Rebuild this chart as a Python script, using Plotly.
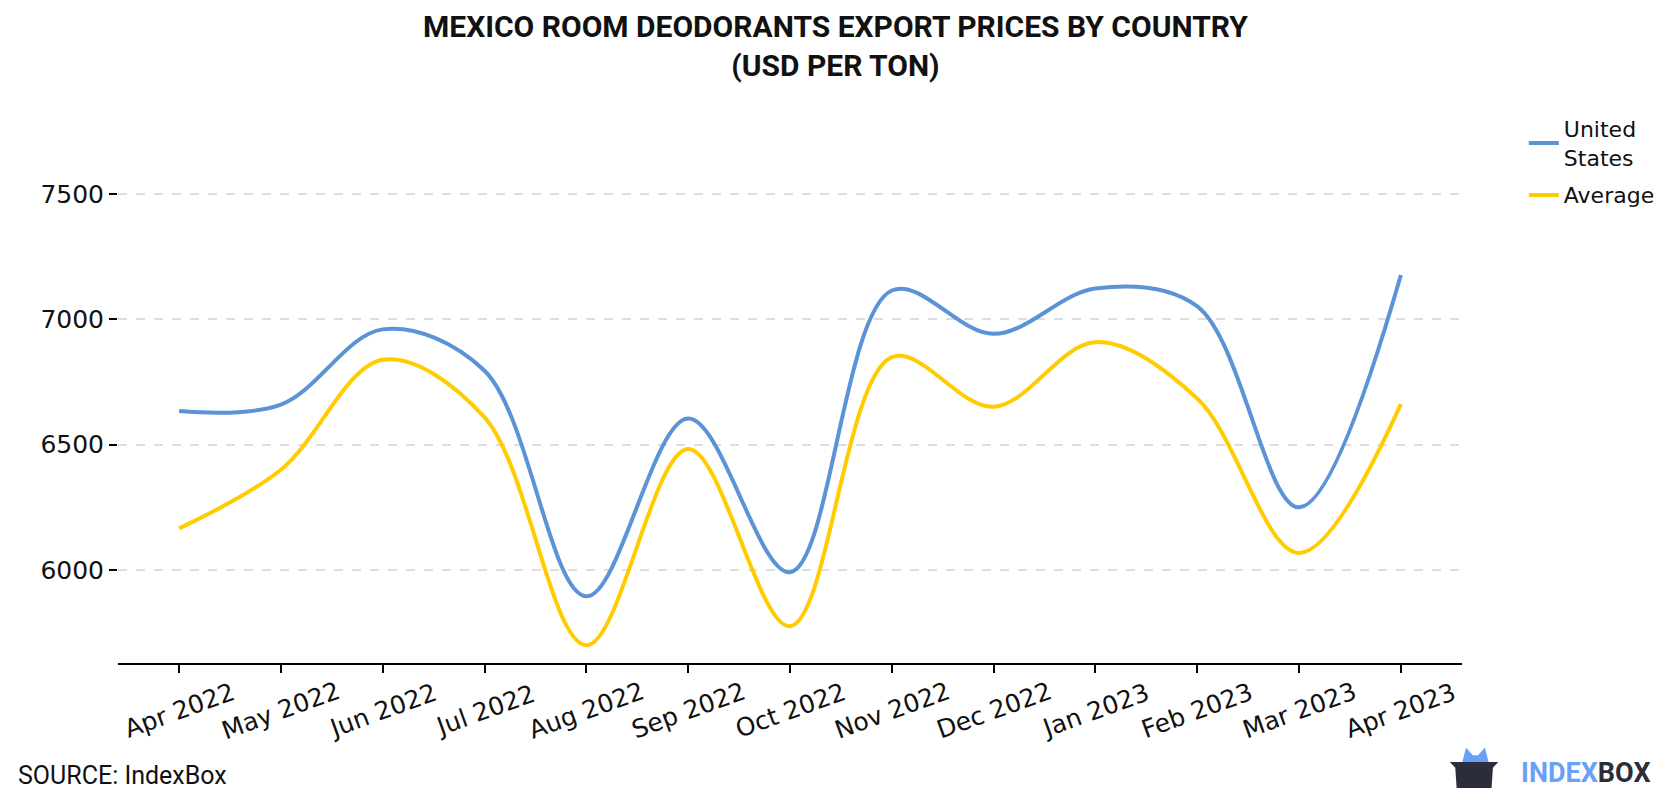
import plotly.graph_objects as go

months = ["Apr 2022", "May 2022", "Jun 2022", "Jul 2022", "Aug 2022", "Sep 2022",
          "Oct 2022", "Nov 2022", "Dec 2022", "Jan 2023", "Feb 2023", "Mar 2023",
          "Apr 2023"]
united_states = [6634, 6660, 6960, 6795, 5895, 6604, 5991, 7115, 6942, 7123,
                 7052, 6250, 7177]
average = [6166, 6400, 6839, 6609, 5700, 6483, 5776, 6849, 6651, 6909,
           6684, 6068, 6662]
y_ticks = [6000, 6500, 7000, 7500]

fig = go.Figure()
fig.add_trace(go.Scatter(x=months, y=united_states, name="United<br>States",
    legendgroup="us", mode="lines",
    line=dict(color="#5b93d6", width=4, shape="spline")))
fig.add_trace(go.Scatter(x=months, y=average, name="Average",
    legendgroup="avg", mode="lines",
    line=dict(color="#ffcc00", width=4, shape="spline")))

# page body adds an 8px margin, so the figure is 16px smaller than the window
fig.update_layout(
    width=1664, height=784,
    font=dict(family="Roboto", color="#111"),
    margin=dict(l=110, r=210, t=92, b=129),
    plot_bgcolor="white", paper_bgcolor="white",
    legend=dict(x=1.046, y=0.986, xanchor="left", yanchor="top",
                font=dict(family="DejaVu Sans", size=22), tracegroupgap=6),
    showlegend=True)

fig.add_annotation(text="<b>MEXICO ROOM DEODORANTS EXPORT PRICES BY COUNTRY<br>(USD PER TON)</b>",
    x=0.5335, y=1.096, xref="paper", yref="paper", xanchor="center", yanchor="middle",
    showarrow=False, font=dict(family="Roboto", size=30, color="#111"))

fig.update_xaxes(type="category", range=[-0.6, 12.6], showticklabels=False,
    showline=True, linecolor="black", linewidth=2, ticks="outside", ticklen=8,
    tickwidth=2, tickcolor="black", showgrid=False)
fig.update_yaxes(range=[5629, 7875], tickvals=y_ticks,
    tickfont=dict(family="DejaVu Sans", size=25), ticks="outside", ticklen=8, tickwidth=2,
    tickcolor="black", showline=False, showgrid=True, gridcolor="#dddddd",
    griddash="dash", gridwidth=1.5, zeroline=False)

# rotated month labels, centred under their ticks
for m in months:
    fig.add_annotation(text=m, x=m, y=-0.0835, xref="x", yref="paper",
        xanchor="center", yanchor="middle", textangle=-20, showarrow=False,
        font=dict(family="DejaVu Sans", size=25, color="#111"))

fig.add_annotation(text="SOURCE: IndexBox", x=-0.076, y=-0.199, xref="paper", yref="paper",
    xanchor="left", yanchor="middle", showarrow=False,
    font=dict(family="Roboto", size=25, color="#111"))

# logo
fig.add_annotation(text="<b><span style='color:#6aa0f8'>INDEX</span><span style='color:#2b2d3a'>BOX</span></b>",
    x=1.092, y=-0.195, xref="paper", yref="paper", xanchor="center", yanchor="middle",
    showarrow=False, font=dict(family="Roboto", size=27))
fig.add_shape(type="path", xref="paper", yref="paper",
    path="M 1.000 -0.178 L 1.003 -0.150 L 1.008 -0.164 L 1.012 -0.164 L 1.017 -0.150 L 1.020 -0.178 Z",
    fillcolor="#6aa0f8", line=dict(width=0))
fig.add_shape(type="path", xref="paper", yref="paper",
    path="M 0.991 -0.176 L 1.027 -0.176 L 1.023 -0.186 L 1.022 -0.222 L 0.996 -0.222 L 0.995 -0.186 Z",
    fillcolor="#2b2d3a", line=dict(width=0))

fig.write_html("out.html")
